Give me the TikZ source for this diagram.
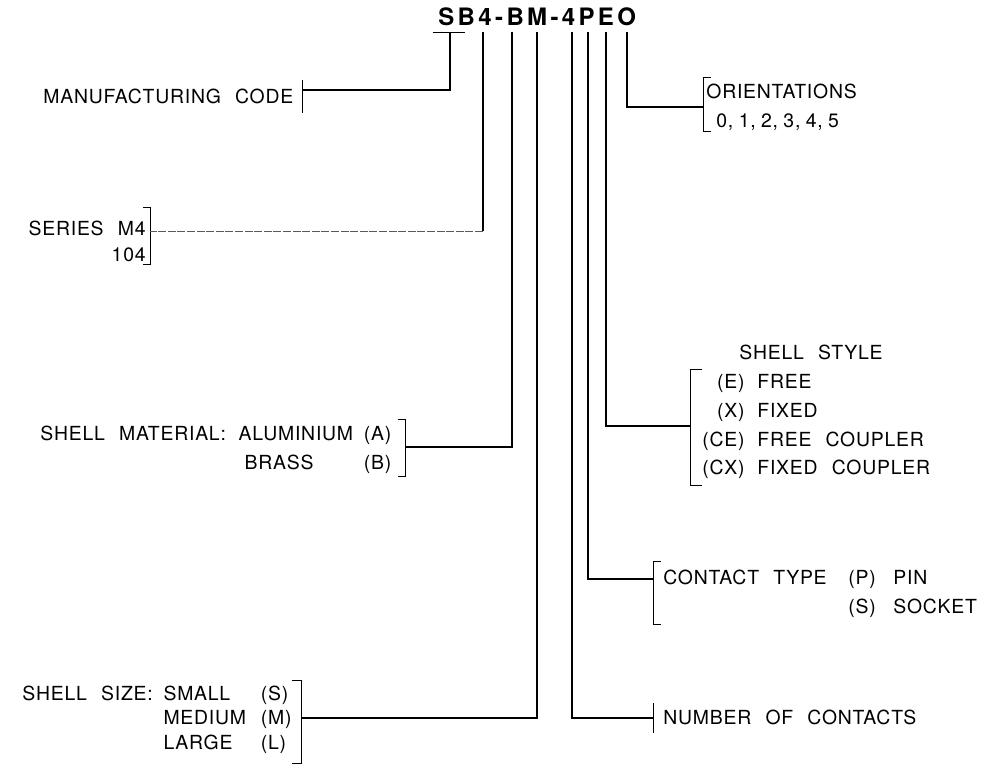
\documentclass[tikz,border=0pt]{standalone}
\usepackage{fontspec}
\setmainfont{TeX Gyre Heros}[LetterSpace=4,WordSpace=2.3]
\newfontfamily\titlefont{TeX Gyre Heros}[LetterSpace=14]
\usetikzlibrary{positioning}

\tikzset{
  lbl/.style={inner sep=0pt, font=\fontsize{9.7}{11}\selectfont},
  lblw/.style={lbl, anchor=base west},
  lble/.style={lbl, anchor=base east},
  lead/.style={line width=0.7pt},
  faint/.style={line width=0.35pt, black!65, dash pattern=on 4pt off 0.8pt},
  brk/.style={line width=0.5pt},
}

\begin{document}
\begin{tikzpicture}[x=0.5pt,y=-0.5pt]
\useasboundingbox (0,0) rectangle (986,780);

% part number, with the tops of its leads
\node[anchor=base west, inner sep=0pt, font=\titlefont\fontsize{12}{14}\selectfont\bfseries] (code) at (438,26) {SB4-BM-4PEO};
\coordinate (tSB) at (450,33);
\coordinate (t4a) at (483,32);
\coordinate (tB)  at (512,32);
\coordinate (tM)  at (537,32);
\coordinate (t4b) at (572,32);
\coordinate (tP)  at (588,32);
\coordinate (tE)  at (606,32);
\coordinate (tO)  at (627,32);

% manufacturing code
\node[lblw] (mfg) at (43,104) {MANUFACTURING CODE};
\draw[brk] (433,33) -- (465,33);
\draw[brk] (302,80) -- (302,113);
\coordinate (mfgJ) at (302,90);
\draw[lead] (tSB) |- (mfgJ);

% series
\node[lble] (ser)  at (146,235.5) {SERIES M4};
\node[lble] (serN) at (146,261.5) {104};
\draw[brk] (143,208) -| (150,265) -- (143,265);
\coordinate (serJ) at (150,231);
\coordinate (serK) at (483,231);
\draw[lead] (t4a) -- (serK);
\draw[faint] (serK) -- (serJ);

% shell material
\node[lblw] (mat) at (40,440.5) {SHELL MATERIAL:};
\node[lbl, base right=6pt of mat] (alu) {ALUMINIUM};
\node[lbl, base right=5pt of alu] (aluC) {(A)};
\node[lblw] (bra)  at ([xshift=3pt,yshift=-14.5pt]alu.base west) {BRASS};
\node[lblw] (braC) at ([yshift=-14.5pt]aluC.base west) {(B)};
\coordinate (matJ) at ([xshift=7pt,yshift=-3.25pt]aluC.base east);
\draw[brk] ([xshift=-4pt,yshift=13.5pt]matJ) -- ++(4pt,0) -- ([yshift=-15pt]matJ) -- ++(-4pt,0);
\draw[lead] (tB) |- (matJ);

% shell size
\node[lblw] (size) at (22,700.5) {SHELL SIZE:};
\node[lbl, base right=5pt of size] (sml) {SMALL};
\node[lblw] (med)  at ([yshift=-12pt]sml.base west) {MEDIUM};
\node[lbl, base right=7pt of med] (medC) {(M)};
\node[lblw] (smlC) at ([yshift=12pt]medC.base west) {(S)};
\node[lblw] (lrg)  at ([yshift=-12.5pt]med.base west) {LARGE};
\node[lblw] (lrgC) at ([yshift=-12.5pt]medC.base west) {(L)};
\coordinate (sizeJ) at ([xshift=5pt,yshift=3.25pt]medC.base east);
\draw[brk] ([xshift=-5pt,yshift=19pt]sizeJ) -- ++(5pt,0) -- ([yshift=-22.5pt]sizeJ) -- ++(-5pt,0);
\draw[lead] (tM) |- (sizeJ);

% orientations
\node[lblw] (ori)  at (706,98.5)  {ORIENTATIONS};
\node[lblw] (oriV) at (716,127.5) {0,\hspace{2.7pt}1,\hspace{2.7pt}2,\hspace{2.7pt}3,\hspace{2.7pt}4,\hspace{2.7pt}5};
\draw[brk] (711,78) -| (703,132) -- (711,132);
\coordinate (oriJ) at (703,107);
\draw[lead] (tO) |- (oriJ);

% shell style
\node[lbl, anchor=base] (sty) at (811,359.5) {SHELL STYLE};
\node[lble] (styE)   at (745,388.5) {(E)};
\node[lblw] (styEn)  at (757,388.5) {FREE};
\node[lble] (styX)   at (745,417.5) {(X)};
\node[lblw] (styXn)  at (757,417.5) {FIXED};
\node[lble] (styCE)  at (745,446.5) {(CE)};
\node[lblw] (styCEn) at (757,446.5) {FREE COUPLER};
\node[lble] (styCX)  at (745,474.5) {(CX)};
\node[lblw] (styCXn) at (757,474.5) {FIXED COUPLER};
\draw[brk] (702,370) -| (690,486) -- (702,486);
\coordinate (styJ) at (690,426);
\draw[lead] (tE) |- (styJ);

% contact type
\node[lblw] (con)  at (663,584.5) {CONTACT TYPE};
\node[lblw] (conP) at (848,584.5) {(P)};
\node[lblw] (pin)  at (893,584.5) {PIN};
\node[lblw] (conS) at (848,613.5) {(S)};
\node[lblw] (sck)  at (893,613.5) {SOCKET};
\draw[brk] (661,562) -| (653,625) -- (661,625);
\coordinate (conJ) at (653,579);
\draw[lead] (tP) |- (conJ);

% number of contacts
\node[lblw] (num) at (663,724.5) {NUMBER OF CONTACTS};
\draw[brk] (653,703) -- (653,733);
\coordinate (numJ) at (653,718);
\draw[lead] (t4b) |- (numJ);

\end{tikzpicture}
\end{document}
